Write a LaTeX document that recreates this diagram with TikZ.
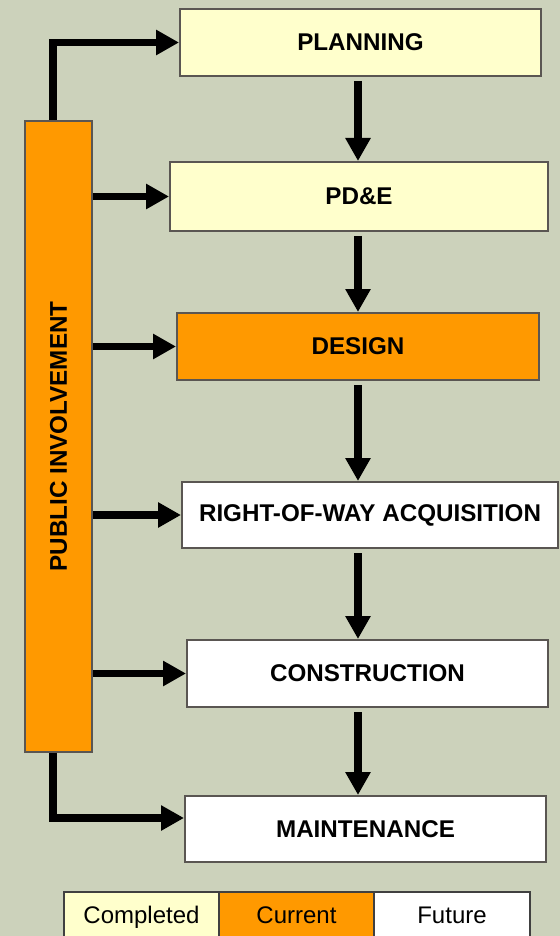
\documentclass[tikz,border=0pt]{standalone}
\usepackage{fontspec}
\setmainfont{Liberation Sans}
\usetikzlibrary{arrows.meta}

\definecolor{bgtan}{RGB}{204,210,187}
\definecolor{done}{RGB}{255,255,204}
\definecolor{now}{RGB}{255,153,0}
\definecolor{edge}{RGB}{90,86,82}

\begin{document}
\begin{tikzpicture}[x=0.5pt, y=-0.5pt,
        phase/.style={draw=edge, line width=1pt, inner sep=0pt, font=\fontsize{12.1}{14}\selectfont\bfseries},
        key/.style={draw=black!75, line width=0.6pt, inner sep=0pt, minimum width=77.5pt, minimum height=25pt, text height=8.7pt, text depth=2.6pt, font=\fontsize{12}{14}\selectfont},
        flow/.style={line width=3.9pt, -{Triangle[width=12pt, length=11.5pt]}}]
        \useasboundingbox (0,0) rectangle (560,936);
        \fill[bgtan] (0,0) rectangle (560,936);

        \node[phase, fill=done, minimum width=180.5pt, minimum height=33.5pt] (plan) at (360.5, 42.5) {PLANNING};
        \node[phase, fill=done, minimum width=189pt, minimum height=34.5pt] (pde) at (359, 196.5) {PD\&E};
        \node[phase, fill=now, minimum width=181pt, minimum height=33.5pt] (design) at (358, 346.5) {DESIGN};
        \node[phase, fill=white, minimum width=188pt, minimum height=33pt] (row) at (370, 515) {RIGHT-OF-WAY ACQUISITION};
        \node[phase, fill=white, minimum width=180.5pt, minimum height=33.5pt] (cons) at (367.5, 673.5) {CONSTRUCTION};
        \node[phase, fill=white, minimum width=180.5pt, minimum height=33pt] (maint) at (365.5, 829) {MAINTENANCE};
        \node[phase, fill=now, minimum width=33.5pt, minimum height=315.5pt] (pub) at (58.5, 436.5) {\rotatebox{90}{PUBLIC INVOLVEMENT}};

        \node[key, fill=done] (kdone) at (141.5, 917) {Completed};
        \node[key, fill=now] (know) at (296.5, 917) {Current};
        \node[key, fill=white, minimum width=78pt] (kfut) at (452, 917) {Future};

        \coordinate (spine) at (358, 0);
        \draw[flow, shorten <=2pt] (plan.south -| spine) -- (pde.north -| spine);
        \draw[flow, shorten <=2pt] (pde.south -| spine) -- (design.north -| spine);
        \draw[flow, shorten <=2pt] (design.south -| spine) -- (row.north -| spine);
        \draw[flow, shorten <=2pt] (row.south -| spine) -- (cons.north -| spine);
        \draw[flow, shorten <=2pt] (cons.south -| spine) -- (maint.north -| spine);

        \draw[flow] ([xshift=-2.75pt]pub.north) |- (plan.west);
        \draw[flow] (pub.east |- pde.west) -- (pde.west);
        \draw[flow] (pub.east |- design.west) -- (design.west);
        \draw[flow] (pub.east |- row.west) -- (row.west);
        \draw[flow] (pub.east |- cons.west) -- (cons.west);
        \draw[flow] ([xshift=-2.75pt]pub.south) |- ([yshift=5.5pt]maint.west);
    \end{tikzpicture}
\end{document}
